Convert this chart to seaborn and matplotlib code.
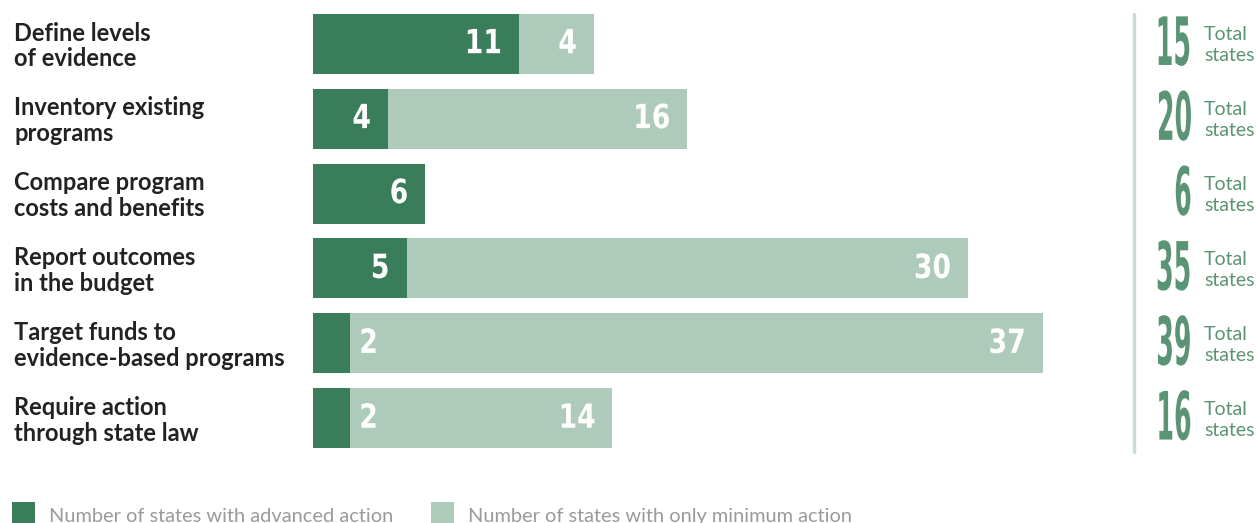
import matplotlib
matplotlib.use("Agg")
import matplotlib.pyplot as plt
import matplotlib.transforms as mtransforms
from matplotlib import patheffects
from matplotlib.lines import Line2D
import seaborn as sns

# data
steps = ["Define levels\nof evidence", "Inventory existing\nprograms",
         "Compare program\ncosts and benefits", "Report outcomes\nin the budget",
         "Target funds to\nevidence-based programs", "Require action\nthrough state law"]
advanced = [11, 4, 6, 5, 2, 2]
minimum = [4, 16, 0, 30, 37, 14]
totals = [a + m for a, m in zip(advanced, minimum)]

dark = "#3a7d5a"
light = "#aecabb"
total_col = "#5b9474"
label_col = "#222222"
legend_col = "#9a9a9a"


class Squeeze(patheffects.AbstractPathEffect):
    # narrows the glyphs horizontally (no condensed font installed)
    def __init__(self, sx, anchor="right"):
        super().__init__()
        self.sx = sx
        self.anchor = anchor

    def draw_path(self, renderer, gc, tpath, affine, rgbFace=None):
        ext = tpath.get_extents(affine)
        x0 = ext.x1 if self.anchor == "right" else ext.x0
        aff = affine + mtransforms.Affine2D().translate(-x0, 0).scale(self.sx, 1).translate(x0, 0)
        renderer.draw_path(gc, tpath, aff, rgbFace)


sns.set_theme(style="white")
plt.rcParams["font.family"] = ["Lato", "DejaVu Sans"]

fig = plt.figure(figsize=(12.57, 5.23), dpi=100)
W, H = 1257, 523
ax = fig.add_axes([313 / W, 1 - 452 / H, 730 / W, 442 / H])

sns.barplot(x=totals, y=steps, color=light, orient="h", width=0.8, linewidth=0,
            saturation=1, ax=ax, label="Number of states with only minimum action")
sns.barplot(x=advanced, y=steps, color=dark, orient="h", width=0.8, linewidth=0,
            saturation=1, ax=ax, label="Number of states with advanced action")
if ax.get_legend() is not None:
    ax.get_legend().remove()

ax.set_xlim(0, 39)
ax.set_ylim(5.45, -0.45)
ax.set_xlabel("")
ax.set_ylabel("")
ax.set_xticks([])
ax.set_yticks([])
sns.despine(ax=ax, left=True, bottom=True)

num_font = dict(family="DejaVu Sans", fontweight="bold", fontsize=24, color="white")

for i, (a, m) in enumerate(zip(advanced, minimum)):
    if a >= 3:
        ax.annotate(str(a), (a, i), xytext=(-12, 0), textcoords="offset points",
                    ha="right", va="center", path_effects=[Squeeze(0.8, "right")], **num_font)
    else:
        ax.annotate(str(a), (a, i), xytext=(6, 0), textcoords="offset points",
                    ha="left", va="center", path_effects=[Squeeze(0.8, "left")], **num_font)
    if m > 0:
        ax.annotate(str(m), (a + m, i), xytext=(-12, 0), textcoords="offset points",
                    ha="right", va="center", path_effects=[Squeeze(0.8, "right")], **num_font)

# row labels on the left and totals on the right
trans = mtransforms.blended_transform_factory(fig.transFigure, ax.transData)
for i, s in enumerate(steps):
    ax.text(14 / W, i + 0.03, s, transform=trans, ha="left", va="center",
            fontsize=17, fontweight="bold", color=label_col, linespacing=1.15)
    ax.text(1194 / W, i + 0.03, str(totals[i]), transform=trans, ha="right", va="center",
            family="DejaVu Sans", fontweight="bold", fontsize=48, color=total_col,
            path_effects=[Squeeze(0.38, "right")])
    ax.text(1204 / W, i + 0.02, "Total\nstates", transform=trans, ha="left", va="center",
            fontsize=14, color=total_col, linespacing=1.25)

fig.add_artist(Line2D([1134 / W, 1134 / W], [1 - 14 / H, 1 - 452 / H],
                      transform=fig.transFigure, color="#c9ddd0", lw=2.5))

handles, labels = ax.get_legend_handles_labels()
order = [1, 0]
fig.legend([handles[k] for k in order], [labels[k] for k in order],
           loc="lower left", bbox_to_anchor=(4 / W, -13 / H), ncol=2, frameon=False,
           fontsize=14.4, labelcolor=legend_col, handlelength=1.15, handleheight=1.6,
           handletextpad=0.7, columnspacing=1.9, borderaxespad=0)

fig.savefig("out.png", dpi=100)
